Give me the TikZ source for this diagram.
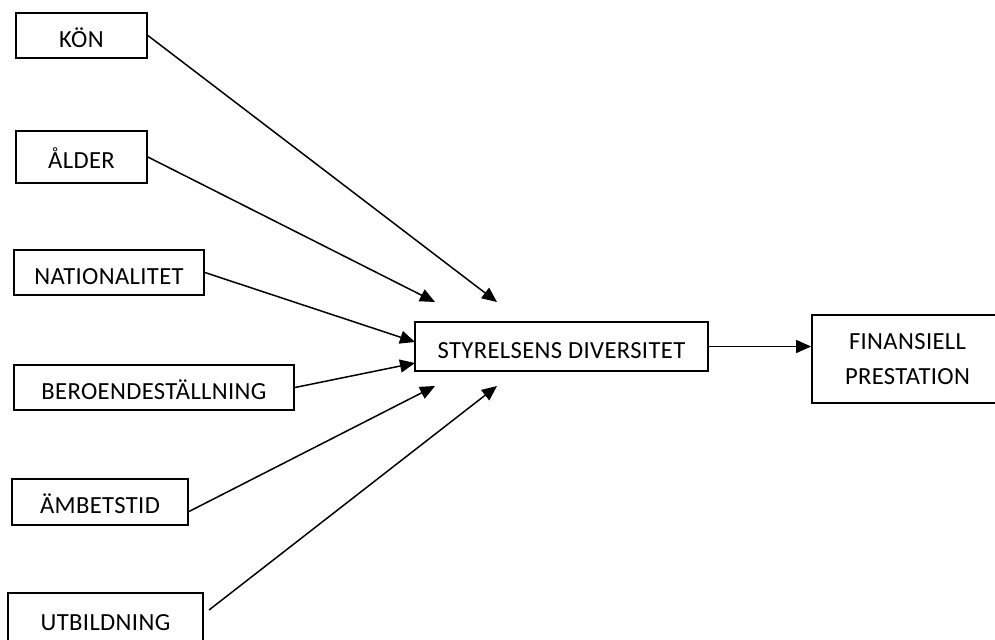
\documentclass[tikz,border=0pt]{standalone}
\usepackage{fontspec}
\setmainfont{Carlito}[LetterSpace=1.5]
\usepackage{tikz}
\usetikzlibrary{arrows.meta}

\begin{document}
\begin{tikzpicture}[
    x=0.5pt, y=-0.5pt,
    frame/.style={draw, line width=0.9pt, inner sep=0pt, align=center, font=\fontsize{12.3}{17.5}\selectfont},
    box/.style={frame, text height=11.7pt, text depth=0pt},
    arr/.style={-{Triangle[length=7.5pt, width=6.5pt]}, line width=0.75pt}
]

\useasboundingbox (0,0) rectangle (995,639);

\node[box, minimum width=65.5pt, minimum height=22.5pt] (kon) at (81.5,35.5) {KÖN};
\node[box, minimum width=65.5pt, minimum height=26pt] (alder) at (81.5,157) {ÅLDER};
\node[box, minimum width=95pt, minimum height=22.5pt] (nat) at (109,272.5) {NATIONALITET};
\node[box, minimum width=140pt, minimum height=22.5pt] (beroende) at (154,387.5) {BEROENDESTÄLLNING};
\node[box, minimum width=88pt, minimum height=23pt] (ambetstid) at (100,502) {ÄMBETSTID};
\node[box, minimum width=97.5pt, minimum height=26pt] (utb) at (105.5,619) {UTBILDNING};

\node[box, minimum width=146.5pt, minimum height=24.5pt] (styr) at (561.5,346.5) {STYRELSENS DIVERSITET};
\node[frame, minimum width=95.5pt, minimum height=44pt] (fin) at (907.5,359) {FINANSIELL\\PRESTATION};

\coordinate (inKon) at (497,302);
\coordinate (inAlder) at (435,302);
\coordinate (inNat) at (415,342);
\coordinate (inBer) at (415,363);
\coordinate (inAmb) at (435,386);
\coordinate (inUtb) at (497,386);
\coordinate (utAmb) at (188,512);
\coordinate (utUtb) at (209,610);

\draw[arr] (kon.east) -- (inKon);
\draw[arr] (alder.east) -- (inAlder);
\draw[arr] (nat.east) -- (inNat);
\draw[arr] (beroende.east) -- (inBer);
\draw[arr] (utAmb) -- (inAmb);
\draw[arr] (utUtb) -- (inUtb);
\draw[arr] (styr.east) -- (styr.east -| fin.west);

\end{tikzpicture}
\end{document}
